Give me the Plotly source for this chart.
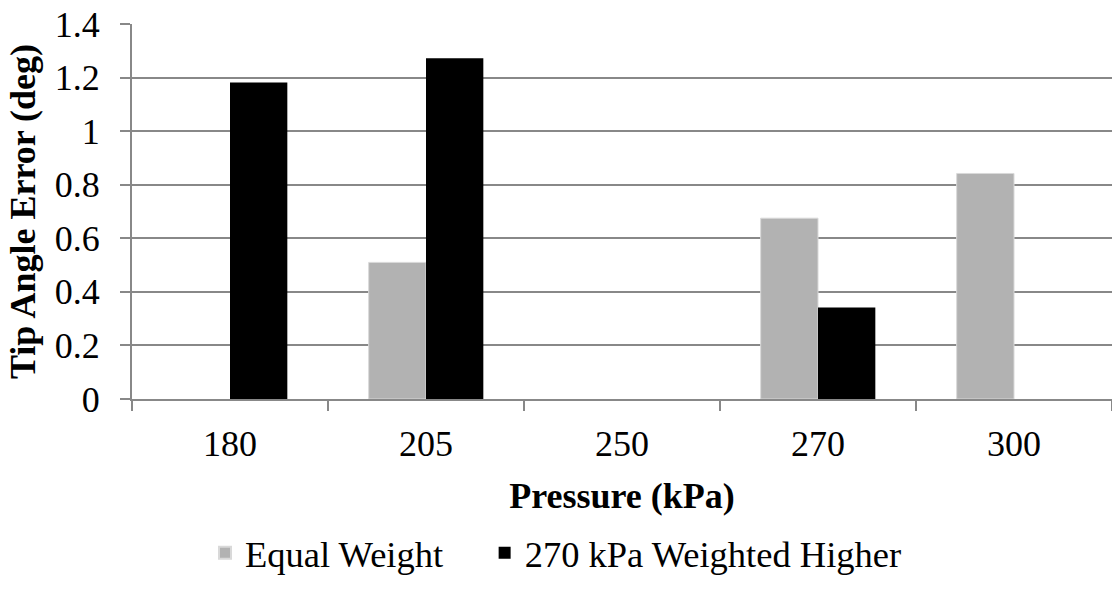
import plotly.graph_objects as go

categories = ["180", "205", "250", "270", "300"]
equal_weight = [None, 0.51, None, 0.675, 0.842]
weighted_270 = [1.182, 1.272, None, 0.342, None]
y_ticks = [0, 0.2, 0.4, 0.6, 0.8, 1, 1.2, 1.4]
y_tick_text = ["0", "0.2", "0.4", "0.6", "0.8", "1", "1.2", "1.4"]
series_names = ["Equal Weight", "270 kPa Weighted Higher"]

FONT = "Liberation Serif, Times New Roman, serif"
GRID = "#888888"
FS = 36

fig = go.Figure()
fig.add_trace(go.Bar(x=categories, y=equal_weight, name=series_names[0] + "\u00a0" * 4,
                     marker=dict(color="#b2b2b2", line=dict(color="#d9d9d9", width=1))))
fig.add_trace(go.Bar(x=categories, y=weighted_270, name=series_names[1],
                     marker=dict(color="#000000", line=dict(width=0))))

fig.update_layout(
    width=1112, height=602,
    margin=dict(l=132, r=0, t=24, b=203),
    paper_bgcolor="white", plot_bgcolor="white",
    barmode="group", bargap=0.415, bargroupgap=0,
    font=dict(family=FONT, size=FS, color="black"),
    showlegend=True,
    legend=dict(orientation="h", x=0.0745, xanchor="left", y=-0.411, yanchor="middle",
                font=dict(family=FONT, size=36.5), itemsizing="constant",
                traceorder="normal", bgcolor="rgba(0,0,0,0)"),
)
fig.update_xaxes(
    type="category", categoryorder="array", categoryarray=categories,
    showline=True, linecolor=GRID, linewidth=2,
    ticks="outside", tickson="boundaries", ticklen=10, tickwidth=2, tickcolor=GRID,
    showgrid=False, tickfont=dict(family=FONT, size=FS),
    ticklabelstandoff=12,
    title=dict(text="<b>Pressure (kPa)</b>", font=dict(family=FONT, size=FS), standoff=20),
)
fig.update_yaxes(
    range=[0, 1.4], tickvals=y_ticks, ticktext=y_tick_text,
    showline=True, linecolor=GRID, linewidth=2,
    ticks="outside", ticklen=10, tickwidth=2, tickcolor=GRID,
    showgrid=True, gridcolor=GRID, gridwidth=2, zeroline=False,
    tickfont=dict(family=FONT, size=FS), ticklabelstandoff=13,
    title=dict(text="<b>Tip Angle Error (deg)</b>", font=dict(family=FONT, size=FS), standoff=8),
)

fig.write_html("out.html")
